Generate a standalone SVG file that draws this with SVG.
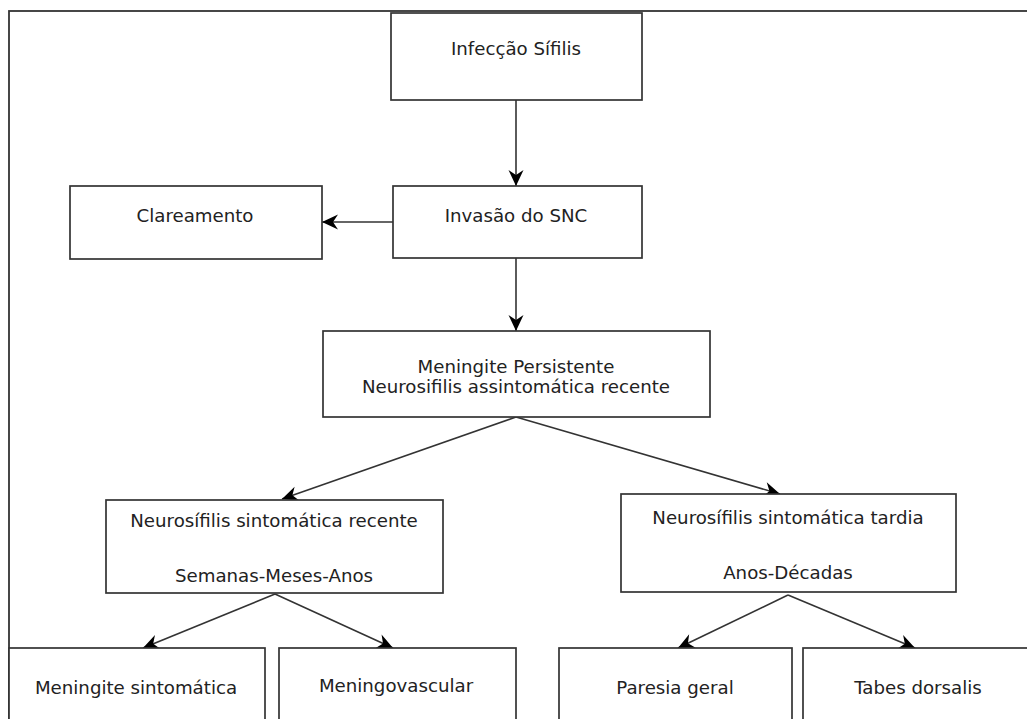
<svg xmlns="http://www.w3.org/2000/svg" width="1027" height="719" viewBox="0 0 1027 719">
<style>
.box{fill:#fff;stroke:#333;stroke-width:1.7}
.t{font-family:"DejaVu Sans",Verdana,sans-serif;font-size:18.2px;fill:#222;text-anchor:middle;dominant-baseline:central}
.c{stroke:#333;stroke-width:1.6;fill:none;marker-end:url(#ah)}
</style>
<defs>
<marker id="ah" markerUnits="userSpaceOnUse" markerWidth="18" markerHeight="18" viewBox="0 0 18 18" refX="17" refY="9" orient="auto">
<path d="M1,1.5 L17,9 L1,16.5 L6,9 Z" fill="#000"/>
</marker>
</defs>
<rect x="0" y="0" width="1027" height="719" fill="#fff"/>
<rect x="9" y="11" width="1040" height="740" fill="none" stroke="#333" stroke-width="1.8"/>
<g id="connectors">
<line class="c" x1="516" y1="100" x2="516" y2="186"/>
<line class="c" x1="393" y1="222" x2="322" y2="222"/>
<line class="c" x1="516" y1="258" x2="516" y2="331"/>
<line class="c" x1="516" y1="417" x2="282" y2="499"/>
<line class="c" x1="516" y1="417" x2="780" y2="494"/>
<line class="c" x1="275" y1="594" x2="143" y2="648"/>
<line class="c" x1="275" y1="594" x2="393" y2="648"/>
<line class="c" x1="788" y1="595" x2="678" y2="648"/>
<line class="c" x1="788" y1="595" x2="915" y2="648"/>
</g>
<g id="infeccao"><rect class="box" x="391" y="13" width="251" height="87"/><text class="t" x="516" y="48">Infecção Sífilis</text></g>
<g id="invasao"><rect class="box" x="393" y="186" width="249" height="72"/><text class="t" x="516" y="215">Invasão do SNC</text></g>
<g id="clareamento"><rect class="box" x="70" y="186" width="252" height="73"/><text class="t" x="195" y="215">Clareamento</text></g>
<g id="meningite-persistente"><rect class="box" x="323" y="331" width="387" height="86"/><text class="t" x="516" y="366">Meningite Persistente</text><text class="t" x="516" y="386">Neurosifilis assintomática recente</text></g>
<g id="recente"><rect class="box" x="106" y="500" width="337" height="93"/><text class="t" x="274" y="520">Neurosífilis sintomática recente</text><text class="t" x="274" y="575">Semanas-Meses-Anos</text></g>
<g id="tardia"><rect class="box" x="621" y="494" width="335" height="98"/><text class="t" x="788" y="517">Neurosífilis sintomática tardia</text><text class="t" x="788" y="572">Anos-Décadas</text></g>
<g id="meningite-sintomatica"><rect class="box" x="9" y="648" width="256" height="100"/><text class="t" x="136" y="687">Meningite sintomática</text></g>
<g id="meningovascular"><rect class="box" x="279" y="648" width="237" height="100"/><text class="t" x="396" y="685">Meningovascular</text></g>
<g id="paresia"><rect class="box" x="559" y="648" width="233" height="100"/><text class="t" x="675" y="687">Paresia geral</text></g>
<g id="tabes"><rect class="box" x="803" y="648" width="240" height="100"/><text class="t" x="918" y="687">Tabes dorsalis</text></g>
</svg>
